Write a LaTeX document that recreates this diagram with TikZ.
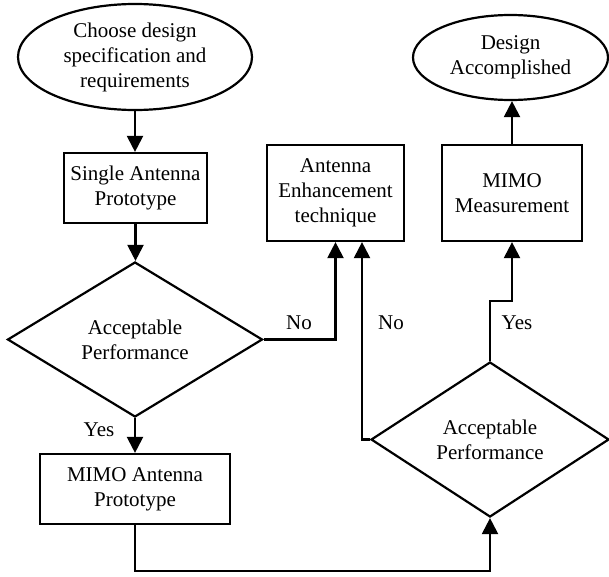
\documentclass[tikz,border=0pt]{standalone}
\usepackage{fontspec}
\setmainfont{Liberation Serif}
\usetikzlibrary{shapes.geometric,arrows.meta,calc}
\tikzset{
  base/.style={draw, line width=2.2pt, inner sep=0pt, align=center, font=\fontsize{21}{25}\selectfont},
  oval/.style={base, ellipse},
  boxnode/.style={base, rectangle},
  decision/.style={base, diamond},
  lbl/.style={inner sep=0pt, font=\fontsize{21}{25}\selectfont},
  arr/.style={line width=2.2pt, -{Triangle[length=16pt,width=16pt]}}
}
\begin{document}
\begin{tikzpicture}[x=1pt,y=-1pt]
\useasboundingbox (0,0) rectangle (609,576);
\node[oval, minimum width=234pt, minimum height=106pt] (e1) at (135,57) {Choose design\\specification and\\requirements};
\node[boxnode, minimum width=143pt, minimum height=70pt] (b1) at (135.5,188) {Single Antenna\\Prototype};
\node[decision, minimum width=255pt, minimum height=155pt] (d1) at (135,339.5) {Acceptable\\Performance};
\node[boxnode, minimum width=190pt, minimum height=70pt] (b2) at (135,489) {MIMO Antenna\\Prototype};
\node[boxnode, minimum width=137pt, minimum height=96pt] (b3) at (335.5,193) {Antenna\\Enhancement\\technique};
\node[boxnode, minimum width=140pt, minimum height=96pt] (b4) at (512,193) {MIMO\\Measurement};
\node[oval, minimum width=195pt, minimum height=85pt] (e2) at (510.5,57.5) {Design\\Accomplished};
\node[decision, minimum width=238pt, minimum height=155pt] (d2) at (490,439.5) {Acceptable\\Performance};
\coordinate (bot) at (0,571);

\node[lbl] (no1) at (299,323) {No};
\node[lbl] (no2) at (391,323) {No};
\node[lbl] (yes1) at (517,323) {Yes};
\node[lbl] (yes2) at (99,430) {Yes};

\draw[arr] (e1.south) -- (e1.south |- b1.north);
\draw[arr] (b1.south) -- (b1.south |- d1.north);
\draw[arr] (d1.east) -| (b3.south);
\draw[arr] (d1.south) -- (d1.south |- b2.north);
\draw[arr] (b2.south) -- (b2.south |- bot) -| (d2.south);
\draw[arr] (d2.west) -| ([xshift=26.5pt]b3.south);
\draw[arr] (d2.north) -- ++(0,-60) -| (b4.south);
\draw[arr] (b4.north) -- (b4.north |- e2.south);
\end{tikzpicture}
\end{document}
